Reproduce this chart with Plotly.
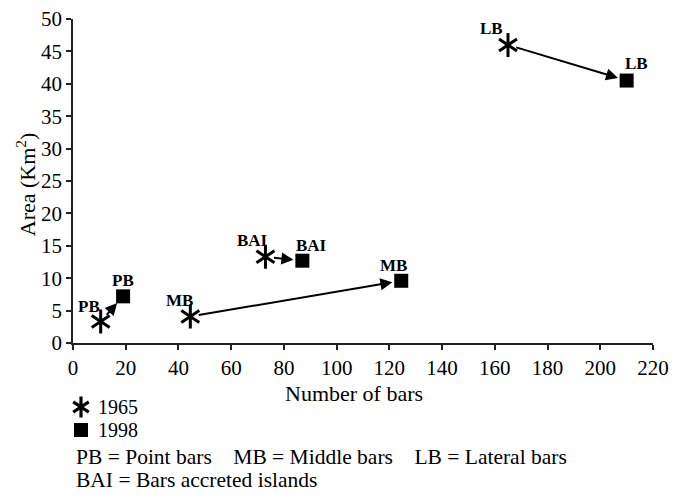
import plotly.graph_objects as go

bar_types = ["PB", "MB", "BAI", "LB"]
bars_1965 = [10.5, 44.5, 73, 165]
area_1965 = [3.3, 4.1, 13.3, 46.0]
bars_1998 = [19, 124.5, 87, 210]
area_1998 = [7.2, 9.6, 12.7, 40.5]

x_ticks = list(range(0, 221, 20))
y_ticks = list(range(0, 51, 5))

legend_years = ["1965", "1998"]
notes = ["PB = Point bars\u00a0\u00a0\u00a0\u00a0MB = Middle bars\u00a0\u00a0\u00a0\u00a0LB = Lateral bars",
         "BAI = Bars accreted islands"]

FONT = "Liberation Serif, Times New Roman, DejaVu Serif, serif"
W, H = 683, 499
L, R, T = 73, 653, 19
AXIS_BOTTOM = 343

# label offsets in pixels (style only)
off_1965 = {"PB": (-12, 15), "MB": (-11, 16), "BAI": (-13, 16), "LB": (-17, 16)}
off_1998 = {"PB": (0, 16), "MB": (-8, 15), "BAI": (9, 15), "LB": (10, 17)}

STAR = dict(size=15, color="black", line=dict(color="black", width=3))

fig = go.Figure()

# 1965 six-armed asterisk = y-up + y-down open symbols
for sym in ["y-up-open", "y-down-open"]:
    fig.add_trace(go.Scatter(
        x=bars_1965, y=area_1965, mode="markers", showlegend=False,
        cliponaxis=False, hoverinfo="skip", name="1965",
        marker=dict(symbol=sym, **STAR),
    ))
fig.add_trace(go.Scatter(
    x=bars_1998, y=area_1998, mode="markers", showlegend=False,
    cliponaxis=False, name="1998",
    marker=dict(symbol="square", size=14, color="black",
                line=dict(color="black", width=0)),
))

# hand-made key in the lower panel (axes x2/y2 measured in pixels)
key_x = 81
key_y = [407, 430]
for sym in ["y-up-open", "y-down-open"]:
    fig.add_trace(go.Scatter(
        x=[key_x], y=[key_y[0]], xaxis="x2", yaxis="y2", mode="markers",
        showlegend=False, hoverinfo="skip", cliponaxis=False,
        marker=dict(symbol=sym, size=13, color="black",
                    line=dict(color="black", width=3.2)),
    ))
fig.add_trace(go.Scatter(
    x=[key_x], y=[key_y[1]], xaxis="x2", yaxis="y2", mode="markers",
    showlegend=False, hoverinfo="skip", cliponaxis=False,
    marker=dict(symbol="square", size=14, color="black"),
))

annotations = []
for name, x0, y0, x1, y1 in zip(bar_types, bars_1965, area_1965, bars_1998, area_1998):
    annotations.append(dict(
        x=x1, y=y1, ax=x0, ay=y0, xref="x", yref="y", axref="x", ayref="y",
        text="", showarrow=True, arrowhead=2, arrowsize=1.2, arrowwidth=2,
        arrowcolor="black", standoff=9, startstandoff=7,
    ))
    dx, dy = off_1965[name]
    annotations.append(dict(
        x=x0, y=y0, xref="x", yref="y", text="<b>%s</b>" % name, showarrow=False,
        xshift=dx, yshift=dy, font=dict(family=FONT, size=17, color="black"),
    ))
    dx, dy = off_1998[name]
    annotations.append(dict(
        x=x1, y=y1, xref="x", yref="y", text="<b>%s</b>" % name, showarrow=False,
        xshift=dx, yshift=dy, font=dict(family=FONT, size=17, color="black"),
    ))

for yr, ky in zip(legend_years, key_y):
    annotations.append(dict(
        x=key_x + 15, y=ky, xref="x2", yref="y2", xanchor="left", yanchor="middle",
        showarrow=False, text=yr, font=dict(family=FONT, size=20, color="black"),
    ))

for note, ny in zip(notes, [457, 480]):
    annotations.append(dict(
        x=74, y=ny, xref="x2", yref="y2", xanchor="left", yanchor="middle",
        showarrow=False, text=note, font=dict(family=FONT, size=21.5, color="black"),
    ))

# axis titles as texts
annotations.append(dict(
    x=354, y=393, xref="x2", yref="y2", xanchor="center", yanchor="middle",
    showarrow=False, text="Number of bars", font=dict(family=FONT, size=22, color="black"),
))
annotations.append(dict(
    x=(26 - L) / (R - L), y=0.49, xref="paper", yref="y domain",
    xanchor="center", yanchor="middle", textangle=-90, showarrow=False,
    text="Area (Km<sup>2</sup>)", font=dict(family=FONT, size=22, color="black"),
))

axis_common = dict(
    showline=True, linecolor="#222", linewidth=1.5, ticks="outside", ticklen=5,
    tickcolor="#222", tickwidth=1.5, showgrid=False, zeroline=False,
    automargin=False,
    tickfont=dict(family=FONT, size=21, color="black"),
)

plot_h = H - T
main_bottom = (H - AXIS_BOTTOM) / plot_h
key_top = (H - 355) / plot_h

fig.update_layout(
    width=W, height=H,
    margin=dict(l=L, r=W - R, t=T, b=0, autoexpand=False),
    paper_bgcolor="white", plot_bgcolor="white",
    xaxis=dict(range=[0, 220], tickvals=x_ticks, anchor="y", **axis_common),
    yaxis=dict(range=[0, 50], tickvals=y_ticks, domain=[main_bottom, 1], anchor="x",
               **axis_common),
    xaxis2=dict(range=[L, R], domain=[0, 1], anchor="y2", visible=False,
                fixedrange=True),
    yaxis2=dict(range=[H, 355], domain=[0, key_top], anchor="x2", visible=False,
                fixedrange=True),
    showlegend=False,
    annotations=annotations,
)

fig.write_html("out.html")
